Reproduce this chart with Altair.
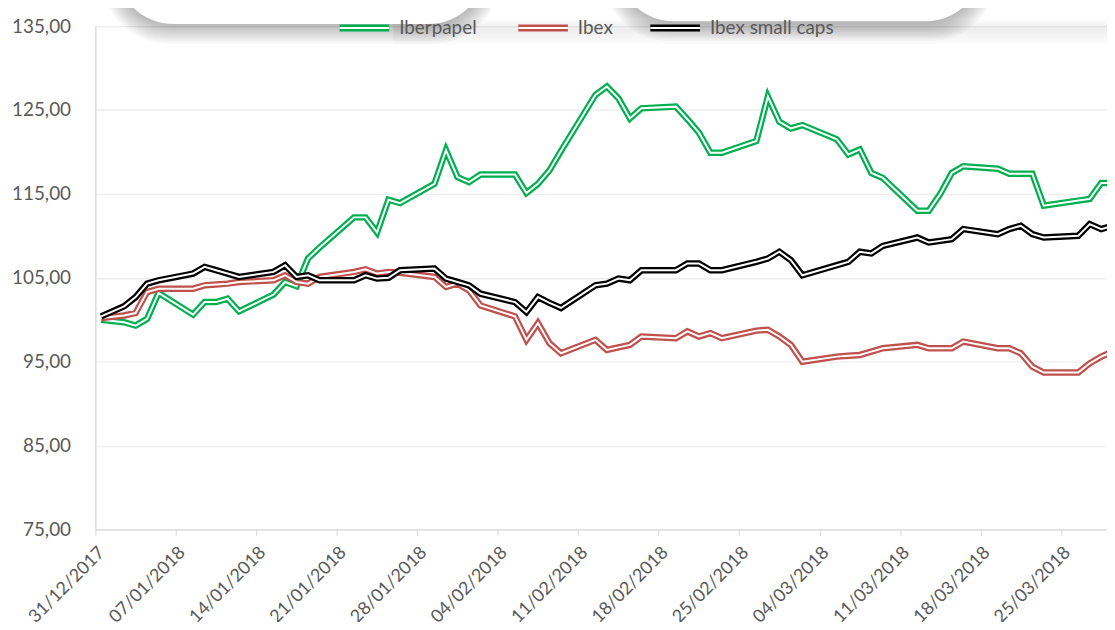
import altair as alt
import pandas as pd

DATES = [
    "2017-12-31", "2018-01-02", "2018-01-03", "2018-01-04", "2018-01-05",
    "2018-01-08", "2018-01-09", "2018-01-10", "2018-01-11", "2018-01-12",
    "2018-01-15", "2018-01-16", "2018-01-17", "2018-01-18", "2018-01-19",
    "2018-01-22", "2018-01-23", "2018-01-24", "2018-01-25", "2018-01-26",
    "2018-01-29", "2018-01-30", "2018-01-31", "2018-02-01", "2018-02-02",
    "2018-02-05", "2018-02-06", "2018-02-07", "2018-02-08", "2018-02-09",
    "2018-02-12", "2018-02-13", "2018-02-14", "2018-02-15", "2018-02-16",
    "2018-02-19", "2018-02-20", "2018-02-21", "2018-02-22", "2018-02-23",
    "2018-02-26", "2018-02-27", "2018-02-28", "2018-03-01", "2018-03-02",
    "2018-03-05", "2018-03-06", "2018-03-07", "2018-03-08", "2018-03-09",
    "2018-03-12", "2018-03-13", "2018-03-14", "2018-03-15", "2018-03-16",
    "2018-03-19", "2018-03-20", "2018-03-21", "2018-03-22", "2018-03-23",
    "2018-03-26", "2018-03-27", "2018-03-28", "2018-03-29",
]

IBERPAPEL = [
    100.0, 99.7, 99.3, 100.1, 103.2,
    100.6, 102.1, 102.1, 102.5, 101.0,
    103.0, 104.5, 104.0, 107.3, 108.6,
    112.2, 112.2, 110.4, 114.3, 113.9,
    116.2, 120.2, 117.0, 116.4, 117.3,
    117.3, 115.1, 116.2, 117.8, 120.1,
    126.8, 127.8, 126.4, 124.0, 125.2,
    125.4, 123.9, 122.3, 119.9, 119.9,
    121.3, 126.6, 123.6, 122.8, 123.2,
    121.5, 119.7, 120.3, 117.5, 116.9,
    113.0, 113.0, 115.0, 117.5, 118.3,
    118.0, 117.4, 117.4, 117.4, 113.6,
    114.2, 114.4, 116.3, 116.3,
]

IBEX = [
    100.2, 100.5, 100.8, 103.3, 103.7,
    103.7, 104.1, 104.2, 104.3, 104.5,
    104.7, 105.3, 104.5, 104.3, 105.1,
    105.7, 106.0, 105.5, 105.7, 105.6,
    105.1, 103.9, 104.3, 103.5, 101.7,
    100.4, 97.6, 99.6, 97.2, 96.0,
    97.6, 96.4, 96.7, 97.0, 98.0,
    97.8, 98.6, 98.0, 98.4, 97.8,
    98.7, 98.8, 98.0, 97.0, 95.0,
    95.6, 95.7, 95.8, 96.2, 96.6,
    97.0, 96.6, 96.6, 96.6, 97.4,
    96.6, 96.6, 96.0, 94.4, 93.7,
    93.7, 94.8, 95.6, 96.2,
]

SMALL_CAPS = [
    100.4, 101.6, 102.7, 104.3, 104.7,
    105.5, 106.3, 105.9, 105.5, 105.1,
    105.7, 106.5, 105.1, 105.3, 104.7,
    104.7, 105.3, 104.9, 105.0, 105.9,
    106.1, 104.9, 104.5, 104.1, 103.1,
    102.1, 100.9, 102.7, 102.0, 101.4,
    104.1, 104.3, 104.9, 104.7, 105.9,
    105.9, 106.7, 106.7, 105.9, 105.9,
    106.9, 107.3, 108.1, 107.1, 105.3,
    106.5, 106.9, 108.1, 107.9, 108.8,
    109.8, 109.2, 109.4, 109.6, 110.8,
    110.2, 110.8, 111.2, 110.2, 109.8,
    110.0, 111.4, 110.8, 111.2,
]

SERIES = ["Iberpapel", "Ibex", "Ibex small caps"]
COLORS = ["#00B050", "#C0504D", "#000000"]

TICK_DATES = [
    "2017-12-31", "2018-01-07", "2018-01-14", "2018-01-21", "2018-01-28",
    "2018-02-04", "2018-02-11", "2018-02-18", "2018-02-25", "2018-03-04",
    "2018-03-11", "2018-03-18", "2018-03-25",
]
X_DOMAIN = ["2017-12-31", "2018-03-29"]
Y_TICKS = [75, 85, 95, 105, 115, 125, 135]

FONT = "Lato"
TEXT_COLOR = "#595959"


def ms(d):
    return int(pd.Timestamp(d, tz="UTC").value // 10**6)


rows = []
for name, vals in zip(SERIES, [IBERPAPEL, IBEX, SMALL_CAPS]):
    for d, v in zip(DATES, vals):
        rows.append({"Fecha": d, "Serie": name, "Valor": v})
df = pd.DataFrame(rows)

x_enc = alt.X(
    "Fecha:T",
    timeUnit="utcyearmonthdate",
    bandPosition=0.5,
    scale=alt.Scale(domain=[ms(d) for d in X_DOMAIN], nice=False),
    axis=alt.Axis(
        values=[ms(d) for d in TICK_DATES],
        labelExpr="utcFormat(datum.value, '%d/%m/%Y')",
        labelAngle=-45,
        labelAlign="right",
        labelBaseline="top",
        labelPadding=8,
        labelFlush=False,
        labelOverlap=False,
        tickSize=6,
        tickColor="#d9d9d9",
        domainColor="#d9d9d9",
        grid=False,
        title=None,
        labelFont=FONT,
        labelFontSize=18,
        labelColor=TEXT_COLOR,
    ),
)

y_enc = alt.Y(
    "Valor:Q",
    scale=alt.Scale(domain=[75, 135], nice=False, zero=False),
    axis=alt.Axis(
        values=Y_TICKS,
        labelExpr="replace(format(datum.value, '.2f'), '.', ',')",
        ticks=False,
        labelPadding=25,
        domainColor="#d9d9d9",
        grid=True,
        gridColor="#eeeeee",
        gridWidth=1.3,
        title=None,
        labelFont=FONT,
        labelFontSize=19,
        labelColor=TEXT_COLOR,
    ),
)

one = pd.DataFrame({"k": [0]})
layers = []

# faint shadow band under the legend (decoration, pixel positions are styling)
band = alt.Gradient(
    gradient="linear",
    stops=[
        alt.GradientStop(offset=0, color="rgba(0,0,0,0)"),
        alt.GradientStop(offset=0.4, color="rgba(0,0,0,0.07)"),
        alt.GradientStop(offset=1, color="rgba(0,0,0,0)"),
    ],
    x1=0, x2=0, y1=0, y2=1,
)
layers.append(
    alt.Chart(one).mark_rect(color=band).encode(
        x=alt.value(300), x2=alt.value(1019), y=alt.value(-8), y2=alt.value(20)
    )
)

# rounded boxes with soft shadows at the top
SHAPES = [(20, 394, -2), (525, 894, -5)]
for (sx1, sx2, sy2) in SHAPES:
    for i in range(9, 0, -1):
        layers.append(
            alt.Chart(one).mark_rect(
                color="black", opacity=0.032, cornerRadius=60 + 2 * i
            ).encode(
                x=alt.value(sx1 - 1.6 * i), x2=alt.value(sx2 + 1.6 * i),
                y=alt.value(-120), y2=alt.value(sy2 + 2.2 * i),
            )
        )
for (sx1, sx2, sy2) in SHAPES:
    layers.append(
        alt.Chart(one).mark_rect(color="white", cornerRadius=60).encode(
            x=alt.value(sx1), x2=alt.value(sx2),
            y=alt.value(-120), y2=alt.value(sy2),
        )
    )

# data lines: each series drawn as a thick coloured stroke with a white core
for name, col in zip(SERIES, COLORS):
    base = alt.Chart(df).transform_filter(alt.datum.Serie == name)
    layers.append(
        base.mark_line(strokeWidth=6.5, color=col, clip=True).encode(x=x_enc, y=y_enc)
    )
    layers.append(
        base.mark_line(strokeWidth=2, color="white", clip=True).encode(x=x_enc, y=y_enc)
    )

# custom legend with double-line symbols
LEG_X = [246, 426, 559]
for name, col, lx in zip(SERIES, COLORS, LEG_X):
    layers.append(
        alt.Chart(one).mark_rule(color=col, strokeWidth=7).encode(
            x=alt.value(lx), x2=alt.value(lx + 50), y=alt.value(2)
        )
    )
    layers.append(
        alt.Chart(one).mark_rule(color="white", strokeWidth=2).encode(
            x=alt.value(lx), x2=alt.value(lx + 50), y=alt.value(2)
        )
    )
    layers.append(
        alt.Chart(pd.DataFrame({"s": [name]})).mark_text(
            align="left", baseline="middle", font=FONT, fontSize=19, color=TEXT_COLOR
        ).encode(text="s:N", x=alt.value(lx + 60), y=alt.value(2))
    )

chart = alt.layer(*layers).properties(
    width=1019,
    height=507,
    autosize=alt.AutoSizeParams(type="none"),
    padding={"left": 88, "top": 16, "right": 0, "bottom": 91},
).configure_view(stroke=None).configure(background="white")

chart.save("out.html", embed_options={"renderer": "svg", "actions": False})
